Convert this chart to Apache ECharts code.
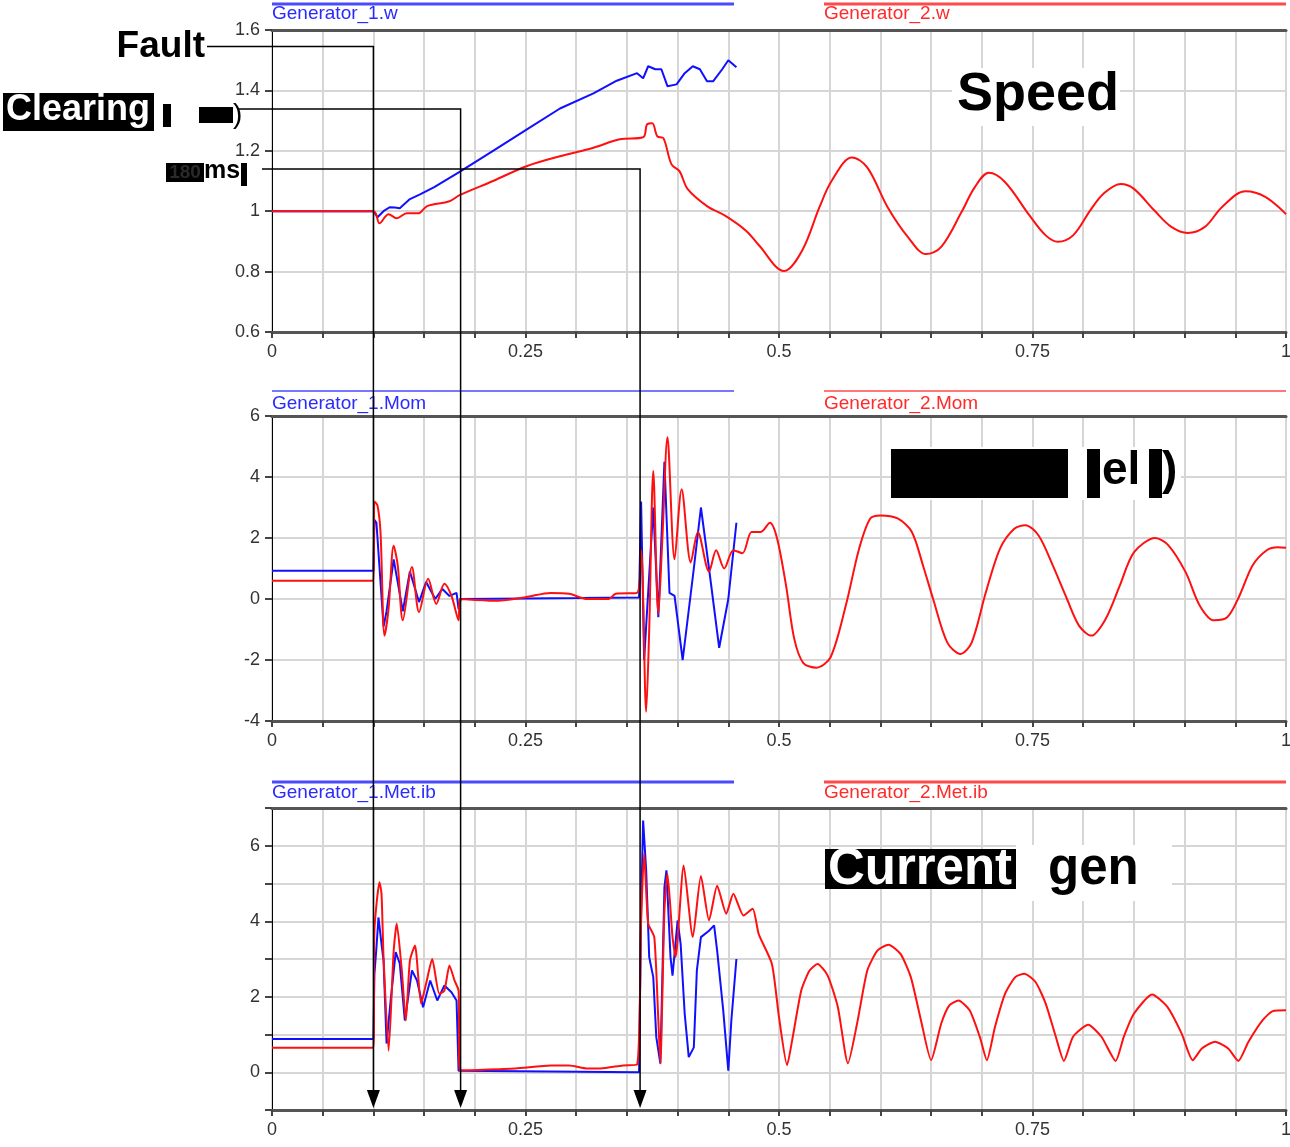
<!DOCTYPE html>
<html><head><meta charset="utf-8">
<script src="https://cdn.jsdelivr.net/npm/echarts@6/dist/echarts.min.js"></script>
<style>html,body{margin:0;padding:0;background:#fff}#c{width:1290px;height:1147px}</style>
</head><body><div id="c"></div>
<script>
// ---------- data ----------
const xLabelValues = [0, 0.25, 0.5, 0.75, 1];
const speedTicks = [0.6, 0.8, 1, 1.2, 1.4, 1.6];
const momTicks = [-4, -2, 0, 2, 4, 6];
const curLabelValues = [0, 2, 4, 6];
const curRange = [-1, 7];
const seriesNames = ['Generator_1.w', 'Generator_2.w', 'Generator_1.Mom', 'Generator_2.Mom', 'Generator_1.Met.ib', 'Generator_2.Met.ib'];
const eventTimes = [0.1, 0.186, 0.363]; // fault, clearing, reclosing

const g1SpeedT = [0,0.1,0.104,0.11,0.116,0.121,0.126,0.136,0.146,0.16,0.185,0.218,0.251,0.284,0.317,0.34,0.36,0.366,0.371,0.378,0.384,0.39,0.399,0.407,0.415,0.422,0.429,0.435,0.444,0.45,0.458];
const g1SpeedV = [1,1,0.98,1.0,1.013,1.012,1.01,1.04,1.056,1.08,1.13,1.2,1.27,1.34,1.39,1.432,1.457,1.44,1.48,1.47,1.47,1.414,1.42,1.457,1.48,1.47,1.43,1.43,1.47,1.5,1.477];

const g2SpeedT = [0,0.1,0.106,0.115,0.123,0.133,0.144,0.153,0.175,0.185,0.218,0.251,0.284,0.317,0.343,0.366,0.37,0.375,0.38,0.386,0.394,0.402,0.41,0.429,0.448,0.468,0.48,0.505,0.523,0.54,0.552,0.572,0.587,0.607,0.627,0.645,0.66,0.68,0.693,0.707,0.723,0.747,0.763,0.775,0.79,0.807,0.82,0.837,0.85,0.87,0.887,0.903,0.92,0.937,0.96,0.98,1.0];
const g2SpeedV = [1,1,0.96,0.99,0.977,0.993,0.993,1.017,1.033,1.053,1.1,1.149,1.182,1.21,1.238,1.245,1.288,1.291,1.248,1.242,1.155,1.132,1.073,1.017,0.983,0.934,0.888,0.802,0.871,1.014,1.101,1.178,1.145,1.014,0.915,0.858,0.882,0.997,1.079,1.127,1.096,0.986,0.92,0.899,0.92,1.003,1.058,1.09,1.074,1.003,0.948,0.928,0.948,1.014,1.066,1.047,0.99];

const g1MomT = [0,0.1,0.101,0.103,0.11,0.113,0.12,0.129,0.136,0.145,0.152,0.161,0.168,0.175,0.182,0.184,0.186,0.25,0.3,0.362,0.364,0.367,0.376,0.381,0.387,0.392,0.397,0.405,0.416,0.423,0.431,0.441,0.45,0.458];
const g1MomV = [0.93,0.93,2.6,2.5,-0.9,-0.4,1.3,-0.4,0.9,-0.1,0.56,0,0.33,0.1,0.2,-0.33,0,0.02,0.03,0.05,3.2,-2.0,3.0,-0.6,4.5,0.2,0.1,-2.0,1.0,3.0,1.0,-1.6,0.0,2.5];

const g2MomT = [0,0.1,0.101,0.104,0.107,0.111,0.115,0.12,0.124,0.129,0.138,0.145,0.154,0.162,0.17,0.177,0.184,0.185,0.219,0.25,0.275,0.293,0.311,0.332,0.339,0.36,0.364,0.369,0.372,0.376,0.381,0.385,0.39,0.397,0.404,0.413,0.42,0.431,0.438,0.446,0.455,0.464,0.473,0.482,0.491,0.498,0.507,0.515,0.524,0.537,0.551,0.566,0.579,0.59,0.6,0.617,0.631,0.642,0.652,0.666,0.679,0.69,0.704,0.718,0.732,0.743,0.756,0.77,0.784,0.796,0.808,0.822,0.836,0.85,0.871,0.884,0.901,0.915,0.929,0.942,0.954,0.967,0.981,0.992,1.0];
const g2MomV = [0.6,0.6,3.2,3.07,2.2,-1.2,-0.3,1.75,1.1,-0.7,1.05,-0.43,0.66,-0.16,0.5,0.1,-0.7,0,-0.06,0.06,0.2,0.17,0,0,0.17,0.2,1.6,-3.7,-1.0,4.2,-0.5,2.0,5.3,1.3,3.6,1.2,2.2,0.9,1.6,1.0,1.6,1.5,2.2,2.2,2.5,2.0,0.43,-1.3,-2.1,-2.25,-1.9,-0.2,1.65,2.64,2.74,2.64,2.2,1.1,0,-1.43,-1.8,-1.43,0.22,1.65,2.3,2.42,2.08,1.1,0,-0.88,-1.2,-0.66,0.43,1.53,2.0,1.76,0.88,-0.22,-0.7,-0.6,0.1,1.1,1.6,1.7,1.68];

const g1CurT = [0,0.1,0.101,0.103,0.105,0.108,0.11,0.113,0.117,0.122,0.126,0.131,0.138,0.143,0.149,0.156,0.163,0.17,0.177,0.182,0.184,0.362,0.364,0.366,0.369,0.372,0.376,0.379,0.383,0.387,0.389,0.393,0.395,0.4,0.403,0.407,0.411,0.416,0.419,0.423,0.431,0.436,0.439,0.445,0.45,0.453,0.458];
const g1CurV = [0.88,0.88,2.6,3.3,4.1,3.4,2.96,0.76,1.9,3.18,2.88,1.37,2.7,2.43,1.72,2.43,1.9,2.3,2.12,1.9,0.04,0.0,4.28,6.67,5.35,3.05,2.52,0.93,0.23,4.9,5.35,3.05,2.56,4.02,3.4,1.55,0.4,0.66,2.7,3.58,3.75,3.89,3.22,1.64,0.04,1.37,3.0];

const g2CurT = [0,0.1,0.101,0.106,0.108,0.11,0.115,0.12,0.123,0.128,0.132,0.136,0.141,0.147,0.152,0.158,0.165,0.17,0.175,0.18,0.184,0.185,0.24,0.275,0.293,0.311,0.324,0.346,0.36,0.364,0.367,0.371,0.377,0.381,0.383,0.387,0.39,0.395,0.398,0.406,0.415,0.423,0.431,0.439,0.448,0.455,0.465,0.474,0.48,0.493,0.5,0.508,0.513,0.522,0.53,0.538,0.548,0.558,0.568,0.577,0.587,0.597,0.608,0.62,0.63,0.64,0.65,0.66,0.668,0.677,0.688,0.698,0.705,0.713,0.723,0.733,0.742,0.753,0.763,0.773,0.781,0.79,0.805,0.818,0.832,0.84,0.85,0.868,0.883,0.897,0.908,0.917,0.93,0.943,0.953,0.963,0.977,0.987,1.0];
const g2CurV = [0.65,0.65,3.76,5.03,4.73,3.05,0.57,3.22,3.94,2.7,1.37,2.96,3.36,1.82,2.35,3.0,2.08,2.16,2.83,2.43,2.16,0.05,0.1,0.18,0.18,0.1,0.1,0.18,0.2,4.0,5.8,3.94,3.58,1.37,0.23,4.28,5.26,3.58,3.05,5.48,3.58,5.2,4.02,4.94,4.2,4.73,4.15,4.33,3.66,2.87,1.46,0.19,0.85,2.17,2.69,2.87,2.56,1.73,0.24,1.29,2.69,3.22,3.38,3.13,2.52,1.38,0.32,1.29,1.77,1.9,1.64,0.94,0.32,1.2,2.08,2.52,2.61,2.39,1.82,0.94,0.3,0.94,1.26,0.94,0.3,0.94,1.55,2.06,1.73,1.03,0.32,0.63,0.81,0.63,0.3,0.81,1.38,1.62,1.64];

// ---------- chart ----------
const FONT = "'Liberation Sans', Arial, sans-serif";
const BLUE = '#1010ff', RED = '#ff1010';
const GRIDC = '#d6d6d6';
const pairs = (T, V) => T.map((t, i) => [t, V[i]]);
const inList = (list, v) => list.find(l => Math.abs(l - v) < 1e-6);

const panels = [
  { top: 30, height: 302, min: speedTicks[0], max: speedTicks[speedTicks.length - 1], interval: 0.2, labels: speedTicks },
  { top: 416, height: 305, min: momTicks[0], max: momTicks[momTicks.length - 1], interval: 2, labels: momTicks },
  { top: 808, height: 302, min: curRange[0], max: curRange[1], interval: 1, labels: curLabelValues }
];

const grids = panels.map(p => ({ left: 272, width: 1014, top: p.top, height: p.height, outerBoundsMode: 'none', containLabel: false }));
const xAxes = [];
panels.forEach((p, i) => {
  xAxes.push({
    type: 'value', gridIndex: i, min: 0, max: 1, interval: 0.05,
    axisLine: { show: true, onZero: false, lineStyle: { color: '#555', width: 3 } },
    axisTick: { show: true, length: 6, lineStyle: { color: '#444', width: 2 } },
    axisLabel: { fontSize: 18, color: '#333', fontFamily: FONT, margin: 11,
      formatter: v => { const l = inList(xLabelValues, v); return l === undefined ? '' : String(l); } },
    splitLine: { show: true, lineStyle: { color: GRIDC, width: 2 } }
  });
});
panels.forEach((p, i) => {
  xAxes.push({
    type: 'value', gridIndex: i, position: 'top', min: 0, max: 1,
    axisLine: { show: true, onZero: false, lineStyle: { color: '#555', width: 3 } },
    axisTick: { show: false }, axisLabel: { show: false }, splitLine: { show: false }
  });
});
const yAxes = panels.map((p, i) => ({
  type: 'value', gridIndex: i, min: p.min, max: p.max, interval: p.interval,
  axisLine: { show: true, onZero: false, lineStyle: { color: '#000', width: 1 } },
  axisTick: { show: true, length: 7, lineStyle: { color: '#444', width: 2 } },
  axisLabel: { fontSize: 18, color: '#333', fontFamily: FONT, margin: 12,
    formatter: v => { const l = inList(p.labels, v); return l === undefined ? '' : String(l); } },
  splitLine: { show: true, lineStyle: { color: GRIDC, width: 2 } }
}));

function line(name, T, V, idx, color, smooth) {
  return { name, type: 'line', xAxisIndex: idx, yAxisIndex: idx, data: pairs(T, V),
    showSymbol: false, symbol: 'none', smooth: smooth,
    lineStyle: { color, width: 2 }, itemStyle: { color }, animation: false };
}

const series = [
  line(seriesNames[0], g1SpeedT, g1SpeedV, 0, BLUE, false),
  line(seriesNames[1], g2SpeedT, g2SpeedV, 0, RED, 0.35),
  line(seriesNames[2], g1MomT, g1MomV, 1, BLUE, false),
  line(seriesNames[3], g2MomT, g2MomV, 1, RED, 0.3),
  line(seriesNames[4], g1CurT, g1CurV, 2, BLUE, false),
  line(seriesNames[5], g2CurT, g2CurV, 2, RED, 0.2)
];

const chart = echarts.init(document.getElementById('c'));
chart.setOption({ animation: false, backgroundColor: '#fff', grid: grids, xAxis: xAxes, yAxis: yAxes, series });

// ---------- annotations ----------
const ex = eventTimes.map(t => chart.convertToPixel({ xAxisIndex: 2 }, t));
const g = [];
const rect = (x, y, w, h, fill) => g.push({ type: 'rect', shape: { x, y, width: w, height: h }, style: { fill }, z: 100 });
const text = (t, x, y, font, fill, align) => g.push({ type: 'text', x, y, style: { text: t, font, fill, align: align || 'left', verticalAlign: 'middle' }, z: 101 });
const hline = (x1, y, x2, color, w) => g.push({ type: 'line', shape: { x1, y1: y, x2, y2: y }, style: { stroke: color, lineWidth: w }, z: 100 });
function arrow(x0, y0, xv) {
  g.push({ type: 'polyline', shape: { points: [[x0, y0], [xv, y0], [xv, 1092]] }, style: { stroke: '#000', lineWidth: 1.5, fill: null }, z: 102 });
  g.push({ type: 'polygon', shape: { points: [[xv - 6.5, 1090], [xv + 6.5, 1090], [xv, 1108]] }, style: { fill: '#000' }, z: 102 });
}

// legend lines / titles
const legendRows = [[4, 14, 3], [391, 404, 1.5], [782, 793, 3]];
legendRows.forEach((r, i) => {
  hline(272, r[0], 734, '#4a4aff', r[2]);
  hline(824, r[0], 1286, '#ff4a4a', r[2]);
  text(seriesNames[2 * i], 272, r[1], '19px ' + FONT, '#2a2aff');
  text(seriesNames[2 * i + 1], 824, r[1], '19px ' + FONT, '#ff2a2a');
});

// Fault
text('Fault', 205, 47, 'bold 37px ' + FONT, '#000', 'right');
arrow(207, 46.5, ex[0]);
// Clearing
rect(3, 93, 151, 38, '#000');
text('Clearing', 78, 110, 'bold 36px ' + FONT, '#fff', 'center');
rect(163, 104, 8, 23, '#000');
rect(199, 107, 34, 16, '#000');
text(')', 233, 115, '28px ' + FONT, '#000');
arrow(238, 109, ex[1]);
// 180ms
rect(166, 163, 38, 19, '#000');
text('180', 185, 173, 'bold 19px ' + FONT, '#2a2a2a', 'center');
text('ms', 204, 171, 'bold 25px ' + FONT, '#000');
rect(241, 163, 6, 23, '#000');
arrow(262, 169, ex[2]);

// Speed
rect(952, 68, 168, 58, '#fff');
text('Speed', 1038, 95, 'bold 54px ' + FONT, '#000', 'center');
// Mom label
rect(891, 447, 290, 53, '#fff');
rect(891, 449, 177, 49, '#000');
rect(1087, 449, 13, 49, '#000');
text('el', 1102, 471, 'bold 46px ' + FONT, '#000');
rect(1149, 449, 13, 49, '#000');
text(')', 1162, 471, 'bold 46px ' + FONT, '#000');
// Current gen
rect(1016, 845, 156, 56, '#fff');
rect(825, 849, 191, 40, '#000');
text('Current', 920, 870, 'bold 51px ' + FONT, '#fff', 'center');
text('gen', 1048, 870, 'bold 51px ' + FONT, '#000');

chart.setOption({ graphic: { elements: g } });
</script>
</body></html>
